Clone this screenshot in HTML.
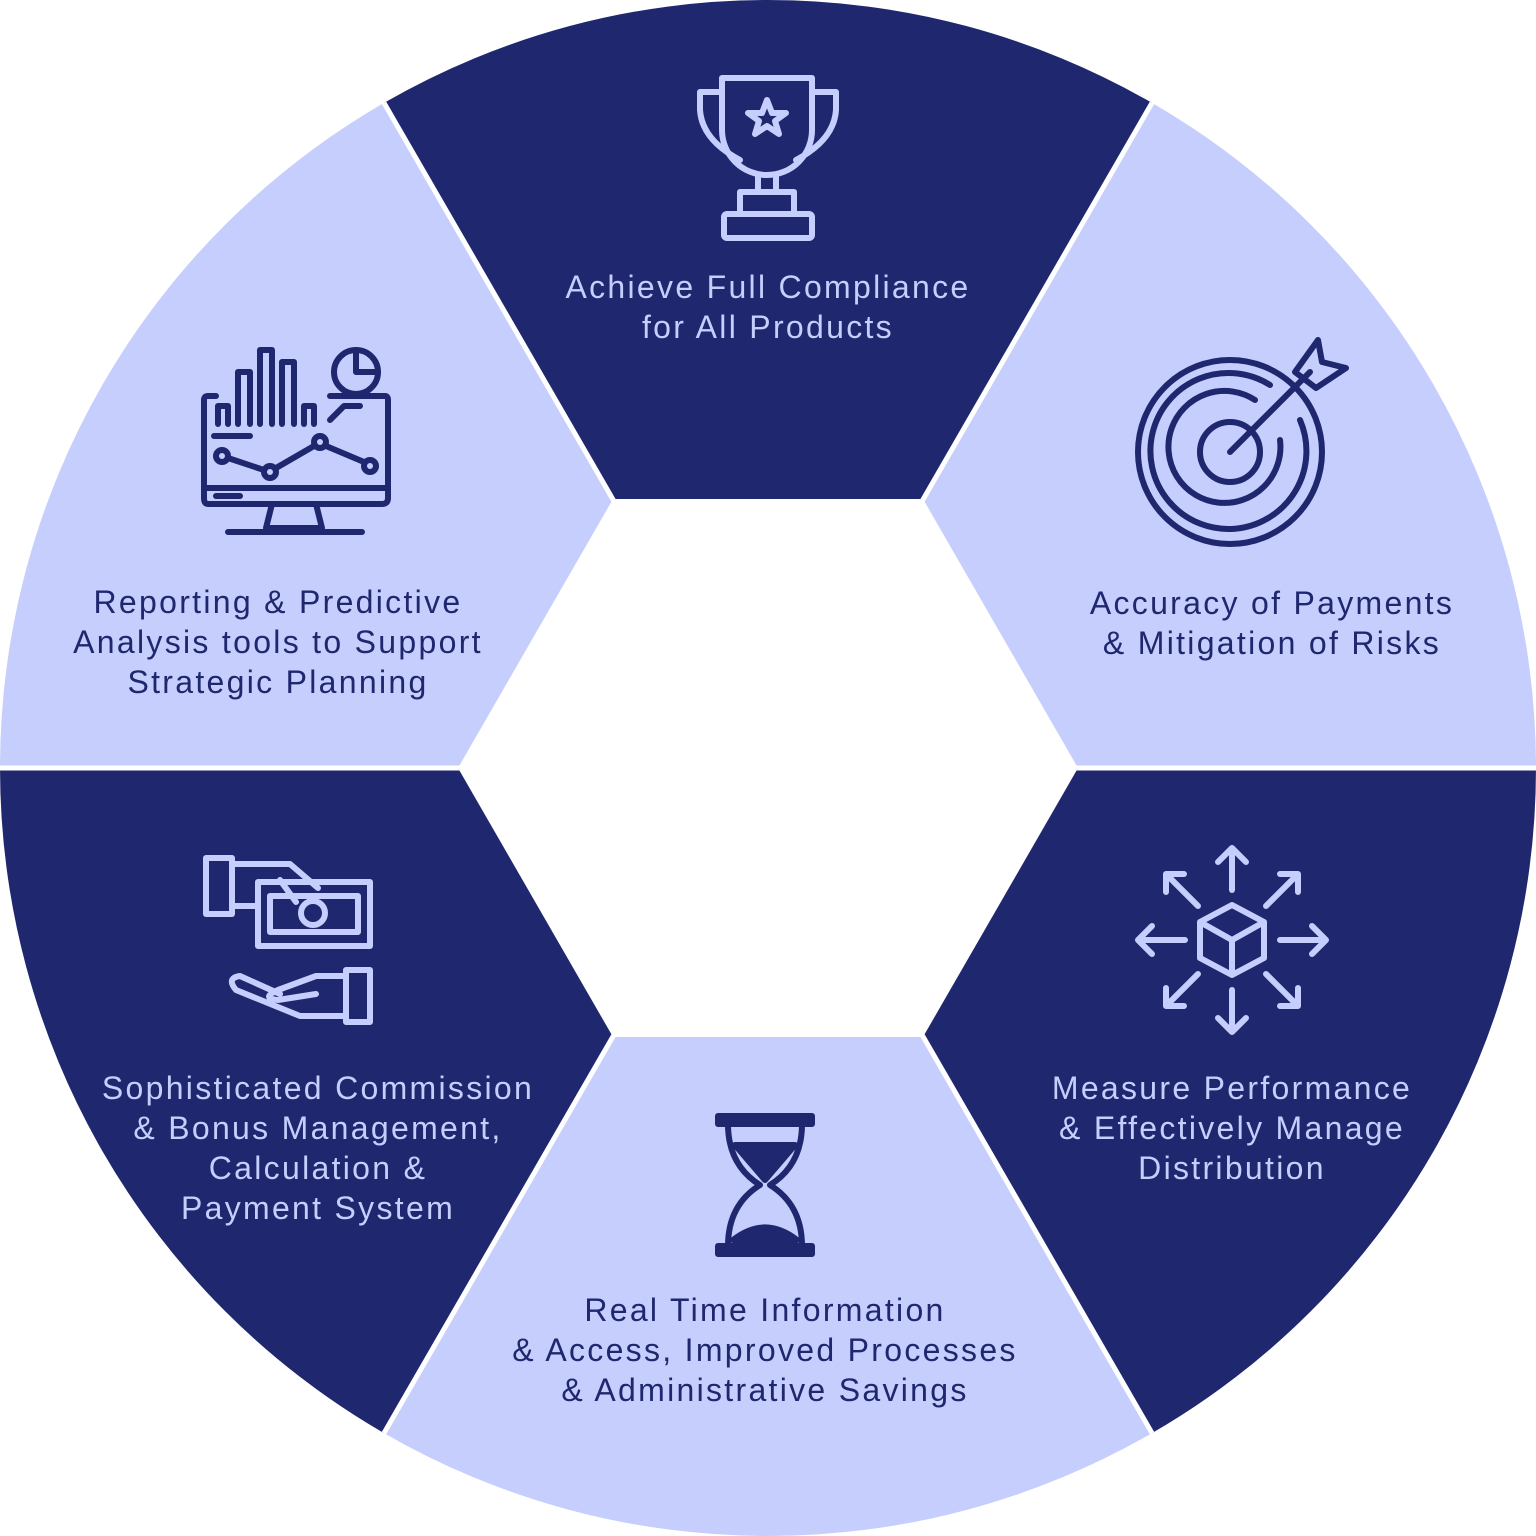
<!DOCTYPE html>
<html><head><meta charset="utf-8"><style>
html,body{margin:0;padding:0;background:#fff;}
svg{display:block}
text{font-family:"Liberation Sans",sans-serif;font-size:32px;letter-spacing:2.3px;text-anchor:middle;}
.d{fill:#1f276e}.l{fill:#c5cefc}
.td{fill:#1f276e}.tl{fill:#c5cefc}
.sd{fill:none;stroke:#1f276e;stroke-width:6;stroke-linecap:round;stroke-linejoin:round}
.sl{fill:none;stroke:#c5cefc;stroke-width:6;stroke-linecap:round;stroke-linejoin:round}
</style></head><body>
<svg width="1536" height="1536" viewBox="0 0 1536 1536">
<path class="d" d="M768 768 L384 102.9 A768 768 0 0 1 1152 102.9 Z"/>
<path class="l" d="M768 768 L1152 102.9 A768 768 0 0 1 1536 768 Z"/>
<path class="d" d="M768 768 L1536 768 A768 768 0 0 1 1152 1433.1 Z"/>
<path class="l" d="M768 768 L1152 1433.1 A768 768 0 0 1 384 1433.1 Z"/>
<path class="d" d="M768 768 L384 1433.1 A768 768 0 0 1 0 768 Z"/>
<path class="l" d="M768 768 L0 768 A768 768 0 0 1 384 102.9 Z"/>
<g stroke="#fff" stroke-width="5">
<line x1="768" y1="768" x2="0" y2="768"/><line x1="768" y1="768" x2="1536" y2="768"/>
<line x1="768" y1="768" x2="384" y2="102.9"/><line x1="768" y1="768" x2="1152" y2="102.9"/>
<line x1="768" y1="768" x2="384" y2="1433.1"/><line x1="768" y1="768" x2="1152" y2="1433.1"/>
</g>
<polygon fill="#fff" points="1078,768 923,499 613,499 458,768 613,1037 923,1037"/>

<text class="tl" x="768" y="298">Achieve Full Compliance</text>
<text class="tl" x="768" y="338">for All Products</text>
<text class="td" x="1272" y="614">Accuracy of Payments</text>
<text class="td" x="1272" y="654">&amp; Mitigation of Risks</text>
<text class="tl" x="1232" y="1099">Measure Performance</text>
<text class="tl" x="1232" y="1139">&amp; Effectively Manage</text>
<text class="tl" x="1232" y="1179">Distribution</text>
<text class="td" x="765" y="1321">Real Time Information</text>
<text class="td" x="765" y="1361">&amp; Access, Improved Processes</text>
<text class="td" x="765" y="1401">&amp; Administrative Savings</text>
<text class="tl" x="318" y="1099">Sophisticated Commission</text>
<text class="tl" x="318" y="1139">&amp; Bonus Management,</text>
<text class="tl" x="318" y="1179">Calculation &amp;</text>
<text class="tl" x="318" y="1219">Payment System</text>
<text class="td" x="278" y="613">Reporting &amp; Predictive</text>
<text class="td" x="278" y="653">Analysis tools to Support</text>
<text class="td" x="278" y="693">Strategic Planning</text>

<g class="sl">
<path d="M722 78 H812 V130 A45 45 0 0 1 722 130 Z"/>
<path d="M722 92 H700 V110 Q702 140 740 160"/>
<path d="M812 92 H836 V110 Q834 140 796 160"/>
<polygon points="767,100 772,113 786,113 775,121 779,134 767,126 755,134 759,121 748,113 762,113"/>
<path d="M758 175 V192 M776 175 V192"/>
<rect x="740" y="192" width="54" height="22"/>
<rect x="724" y="214" width="88" height="24" rx="3"/>
</g>
<g class="sd">
<circle cx="1230" cy="452" r="92"/>
<path d="M1300 420 A78 78 0 1 1 1270 385"/>
<path d="M1280 440 A56 56 0 1 1 1255 400"/>
<circle cx="1230" cy="452" r="30"/>
<line x1="1230" y1="452" x2="1310" y2="372"/>
<path d="M1295 372 L1318 340 L1322 362 L1346 368 L1316 388 Z"/>
</g>
<g class="sl">
<path d="M1232 905 L1264 922 V958 L1232 975 L1200 958 V922 Z M1200 922 L1232 940 L1264 922 M1232 940 V975"/>
<path d="M1232 890 V848 M1218 862 L1232 848 L1246 862"/>
<path d="M1232 990 V1032 M1218 1018 L1232 1032 L1246 1018"/>
<path d="M1185 940 H1138 M1152 926 L1138 940 L1152 954"/>
<path d="M1280 940 H1326 M1312 926 L1326 940 L1312 954"/>
<path d="M1198 906 L1166 874 M1166 892 V874 H1184"/>
<path d="M1266 906 L1298 874 M1280 874 H1298 V892"/>
<path d="M1198 974 L1166 1006 M1166 988 V1006 H1184"/>
<path d="M1266 974 L1298 1006 M1280 1006 H1298 V988"/>
</g>
<g class="sd">
<rect x="718" y="1116" width="94" height="8" fill="#1f276e"/>
<rect x="718" y="1246" width="94" height="8" fill="#1f276e"/>
<path d="M728 1124 Q728 1165 760 1185 Q728 1205 728 1246 M802 1124 Q802 1165 770 1185 Q802 1205 802 1246"/>
<path d="M735 1145 H795 L765 1180 Z" fill="#1f276e"/>
<path d="M733 1240 Q765 1215 797 1240 Z" fill="#1f276e"/>
</g>
<g class="sl">
<rect x="206" y="858" width="26" height="56"/>
<path d="M232 864 H290 L318 888"/>
<rect x="258" y="882" width="112" height="64"/>
<path d="M270 896 H358 V932 H270 Z"/>
<circle cx="313" cy="913" r="12"/>
<path d="M232 906 L258 906 M280 880 L296 902"/>
<rect x="346" y="970" width="24" height="52"/>
<path d="M346 976 H316 L278 990 Q260 998 278 1000 L316 994 M346 1016 H300 L236 990 Q226 978 240 976 L280 994"/>
</g>
<g class="sd">
<path d="M330 396 H385 Q388 396 388 400 V498 Q388 504 382 504 H208 Q204 504 204 498 V400 Q204 396 208 396 H216"/>
<line x1="204" y1="488" x2="388" y2="488"/>
<path d="M272 504 L266 528 H322 L316 504 M228 532 H362"/>
<path d="M218 424 V406 H228 V424 M238 424 V372 H250 V424 M260 424 V350 H272 V424 M282 424 V362 H294 V424 M304 424 V406 H314 V424"/>
<line x1="214" y1="436" x2="250" y2="436"/>
<circle cx="222" cy="456" r="6"/><circle cx="270" cy="472" r="6"/><circle cx="320" cy="442" r="6"/><circle cx="370" cy="466" r="6"/>
<path d="M228 458 L264 470 M276 468 L314 446 M326 446 L364 462"/>
<circle cx="356" cy="372" r="22"/><path d="M356 350 V372 H378"/>
<path d="M330 420 L344 406 H360"/>
<line x1="216" y1="496" x2="240" y2="496"/>
</g>
</svg>
</body></html>
